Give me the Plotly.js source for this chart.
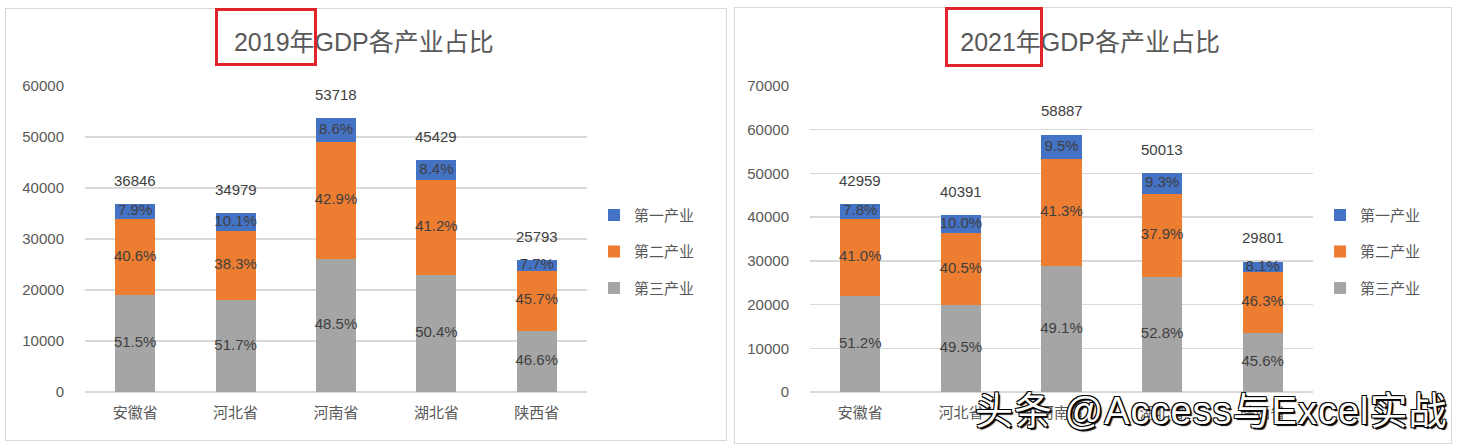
<!DOCTYPE html>
<html><head><meta charset="utf-8">
<script src="https://cdn.plot.ly/plotly-3.0.1.min.js"></script>
<style>
body{margin:0;background:#fff;width:1462px;height:446px;overflow:hidden;position:relative;}
.frame{position:absolute;border:1px solid #d9d9d9;background:#fff;}
.red{position:absolute;border:3px solid #e0242c;box-sizing:border-box;pointer-events:none;}
#wm{position:absolute;left:975px;top:392px;font-family:"Liberation Sans","Noto Sans CJK SC",sans-serif;font-size:38px;line-height:1;letter-spacing:1px;color:#fff;white-space:nowrap;
text-shadow:1px 1px 0 #000,-1px -1px 0 #000,1px -1px 0 #000,-1px 1px 0 #000,2px 2px 1px #000;}
</style></head><body>
<div class="frame" style="left:5px;top:8px;width:720px;height:431px"><div id="c1" style="width:720px;height:431px"></div></div>
<div class="frame" style="left:734px;top:7px;width:716px;height:435px"><div id="c2" style="width:716px;height:435px"></div></div>
<div class="red" style="left:215px;top:8px;width:102px;height:58px"></div>
<div class="red" style="left:945px;top:7px;width:98px;height:60px"></div>
<div id="wm">头条 @Access与Excel实战</div>
<script>
const provinces = ['安徽省','河北省','河南省','湖北省','陕西省'];
const seriesNames = ['第一产业','第二产业','第三产业'];

const total2019 = [36846, 34979, 53718, 45429, 25793];
const primary2019 = [7.9, 10.1, 8.6, 8.4, 7.7];
const secondary2019 = [40.6, 38.3, 42.9, 41.2, 45.7];
const tertiary2019 = [51.5, 51.7, 48.5, 50.4, 46.6];

const total2021 = [42959, 40391, 58887, 50013, 29801];
const primary2021 = [7.8, 10.0, 9.5, 9.3, 8.1];
const secondary2021 = [41.0, 40.5, 41.3, 37.9, 46.3];
const tertiary2021 = [51.2, 49.5, 49.1, 52.8, 45.6];

const FONT = '"Liberation Sans","Noto Sans CJK SC",sans-serif';
const COLORS = ['#4472C4', '#ED7D31', '#A5A5A5'];

function build(div, title, total, p1, p2, p3, ymax, margin, titleX, titleY) {
  const shares = [p3, p2, p1];           // bottom to top
  const names = [seriesNames[2], seriesNames[1], seriesNames[0]];
  const cols = [COLORS[2], COLORS[1], COLORS[0]];
  const ranks = [3, 2, 1];
  const traces = [];
  const base = total.map(() => 0);
  const mids = [];
  shares.forEach((sh, k) => {
    const vals = total.map((t, i) => t * sh[i] / 100);
    mids.push(vals.map((v, i) => base[i] + v / 2));
    traces.push({
      type: 'bar', x: provinces, y: vals, name: names[k], legendgroup: 'g' + ranks[k],
      legendrank: ranks[k], marker: { color: cols[k] }, width: 0.4, hoverinfo: 'skip'
    });
    vals.forEach((v, i) => base[i] += v);
  });
  shares.forEach((sh, k) => {
    traces.push({
      type: 'scatter', mode: 'text', x: provinces, y: mids[k],
      text: sh.map(v => v.toFixed(1) + '%'), textposition: 'middle center',
      textfont: { family: FONT, size: 15, color: '#404040' },
      showlegend: false, hoverinfo: 'skip', cliponaxis: false
    });
  });
  const annotations = total.map((t, i) => ({
    x: provinces[i], y: t, text: String(t), showarrow: false, yshift: 24,
    yanchor: 'middle', font: { family: FONT, size: 15, color: '#404040' }
  }));
  const layout = {
    barmode: 'stack', showlegend: true,
    paper_bgcolor: '#fff', plot_bgcolor: '#fff',
    margin: margin,
    font: { family: FONT, color: '#595959' },
    title: { text: title, font: { family: FONT, size: 25, color: '#595959' },
      xref: 'container', x: titleX, xanchor: 'center', yref: 'container', y: titleY, yanchor: 'middle' },
    xaxis: { type: 'category', showgrid: false, zeroline: false, showline: false,
      tickfont: { family: FONT, size: 15, color: '#595959' }, ticklabelstandoff: 10 },
    yaxis: { range: [0, ymax], dtick: 10000, tickformat: 'd', gridcolor: '#d9d9d9', gridwidth: 1.3,
      zeroline: true, zerolinecolor: '#d9d9d9', zerolinewidth: 1.3, showline: false,
      tickfont: { family: FONT, size: 15, color: '#595959' }, ticklabelstandoff: 20 },
    legend: { x: 1.014, xanchor: 'left', y: 0.458, yanchor: 'middle',
      traceorder: 'grouped', tracegroupgap: 14, itemwidth: 30,
      font: { family: FONT, size: 15, color: '#595959' }, bgcolor: 'rgba(0,0,0,0)' },
    annotations: annotations
  };
  Plotly.newPlot(div, traces, layout, { displayModeBar: false, staticPlot: true });
}

build('c1', '2019年GDP各产业占比', total2019, primary2019, secondary2019, tertiary2019, 60000,
  { l: 79, r: 139, t: 77, b: 48 }, 0.497, 0.923);
build('c2', '2021年GDP各产业占比', total2021, primary2021, secondary2021, tertiary2021, 70000,
  { l: 75, r: 138, t: 78, b: 51 }, 0.496, 0.922);
</script>
</body></html>
